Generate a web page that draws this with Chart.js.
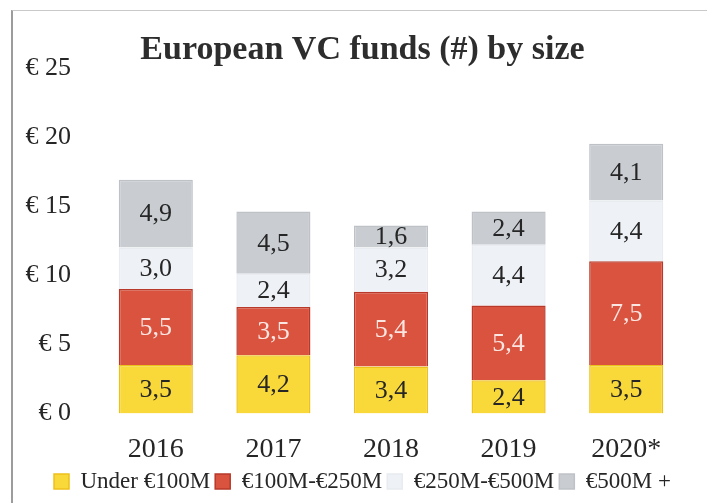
<!DOCTYPE html>
<html><head><meta charset="utf-8">
<script src="https://cdn.jsdelivr.net/npm/chart.js@4"></script>
<style>
html,body{margin:0;padding:0;background:#fff;}
#wrap{position:relative;width:707px;height:503px;overflow:hidden;}
#frame{position:absolute;left:11px;top:10px;right:-4px;bottom:-4px;border-left:2px solid #9c9c9c;border-top:1px solid #c9c9c9;}
canvas{position:absolute;left:0;top:0;}
</style></head>
<body><div id="wrap"><div id="frame"></div><canvas id="c" width="707" height="503"></canvas></div>
<script>
const categories = ['2016','2017','2018','2019','2020*'];
const seriesNames = ['Under €100M','€100M-€250M','€250M-€500M','€500M +'];
const under100 = [3.5, 4.2, 3.4, 2.4, 3.5];
const from100to250 = [5.5, 3.5, 5.4, 5.4, 7.5];
const from250to500 = [3.0, 2.4, 3.2, 4.4, 4.4];
const over500 = [4.9, 4.5, 1.6, 2.4, 4.1];
const yMin = 0, yMax = 25, yStep = 5;

const FONT = "'Liberation Serif', 'Times New Roman', serif";
const fills = ['#F9D93A','#D9533F','#EEF1F6','#C9CDD2'];
const borders = ['#EEC01A','#B8392A','#E8EBF0','#BEC2C7'];
const labelColors = ['#262626','#FBE6E2','#262626','#262626'];

const valueLabels = {
  id: 'valueLabels',
  afterDatasetsDraw(chart) {
    const ctx = chart.ctx;
    ctx.save();
    ctx.font = "26px " + FONT;
    ctx.textAlign = 'center';
    ctx.textBaseline = 'middle';
    chart.data.datasets.forEach((ds, i) => {
      const meta = chart.getDatasetMeta(i);
      meta.data.forEach((el, j) => {
        const v = ds.data[j];
        const cy = (el.y + el.base) / 2;
        ctx.fillStyle = labelColors[i];
        ctx.fillText(v.toFixed(1).replace('.', ','), el.x, cy + 1);
      });
    });
    ctx.restore();
  }
};

new Chart(document.getElementById('c'), {
  type: 'bar',
  data: {
    labels: categories,
    datasets: [under100, from100to250, from250to500, over500].map((d, i) => ({
      label: seriesNames[i],
      data: d,
      backgroundColor: fills[i],
      borderColor: borders[i],
      borderWidth: 1.5,
      barPercentage: 0.63,
      categoryPercentage: 1.0
    }))
  },
  options: {
    responsive: false,
    animation: false,
    layout: { padding: { left: 18, right: 0, top: 0, bottom: 0 } },
    plugins: {
      title: {
        display: true,
        text: 'European VC funds (#) by size',
        color: '#2d2d2d',
        font: { family: FONT, size: 34, weight: 'bold' },
        padding: { top: 30, bottom: -3 }
      },
      legend: {
        position: 'bottom',
        labels: {
          color: '#262626',
          font: { family: FONT, size: 23 },
          boxWidth: 15,
          boxHeight: 15,
          padding: 5
        }
      },
      tooltip: { enabled: false }
    },
    scales: {
      x: {
        stacked: true,
        grid: { display: false, drawTicks: false },
        border: { display: false },
        ticks: { color: '#262626', font: { family: FONT, size: 28 }, padding: 19 },
        afterFit(scale) { scale.height = scale.height - 20; }
      },
      y: {
        stacked: true,
        min: yMin, max: yMax,
        grid: { display: false, drawTicks: false },
        border: { display: false },
        ticks: {
          stepSize: yStep,
          color: '#262626',
          font: { family: FONT, size: 26 },
          padding: 26,
          callback: v => '€ ' + v
        },
        afterFit(scale) { scale.width = 79; }
      },
      yRightSpace: {
        type: 'linear',
        position: 'right',
        display: true,
        grid: { display: false, drawTicks: false },
        border: { display: false },
        ticks: { display: false },
        afterFit(scale) { scale.width = 22; }
      }
    }
  },
  plugins: [valueLabels]
});
</script>
</body></html>
